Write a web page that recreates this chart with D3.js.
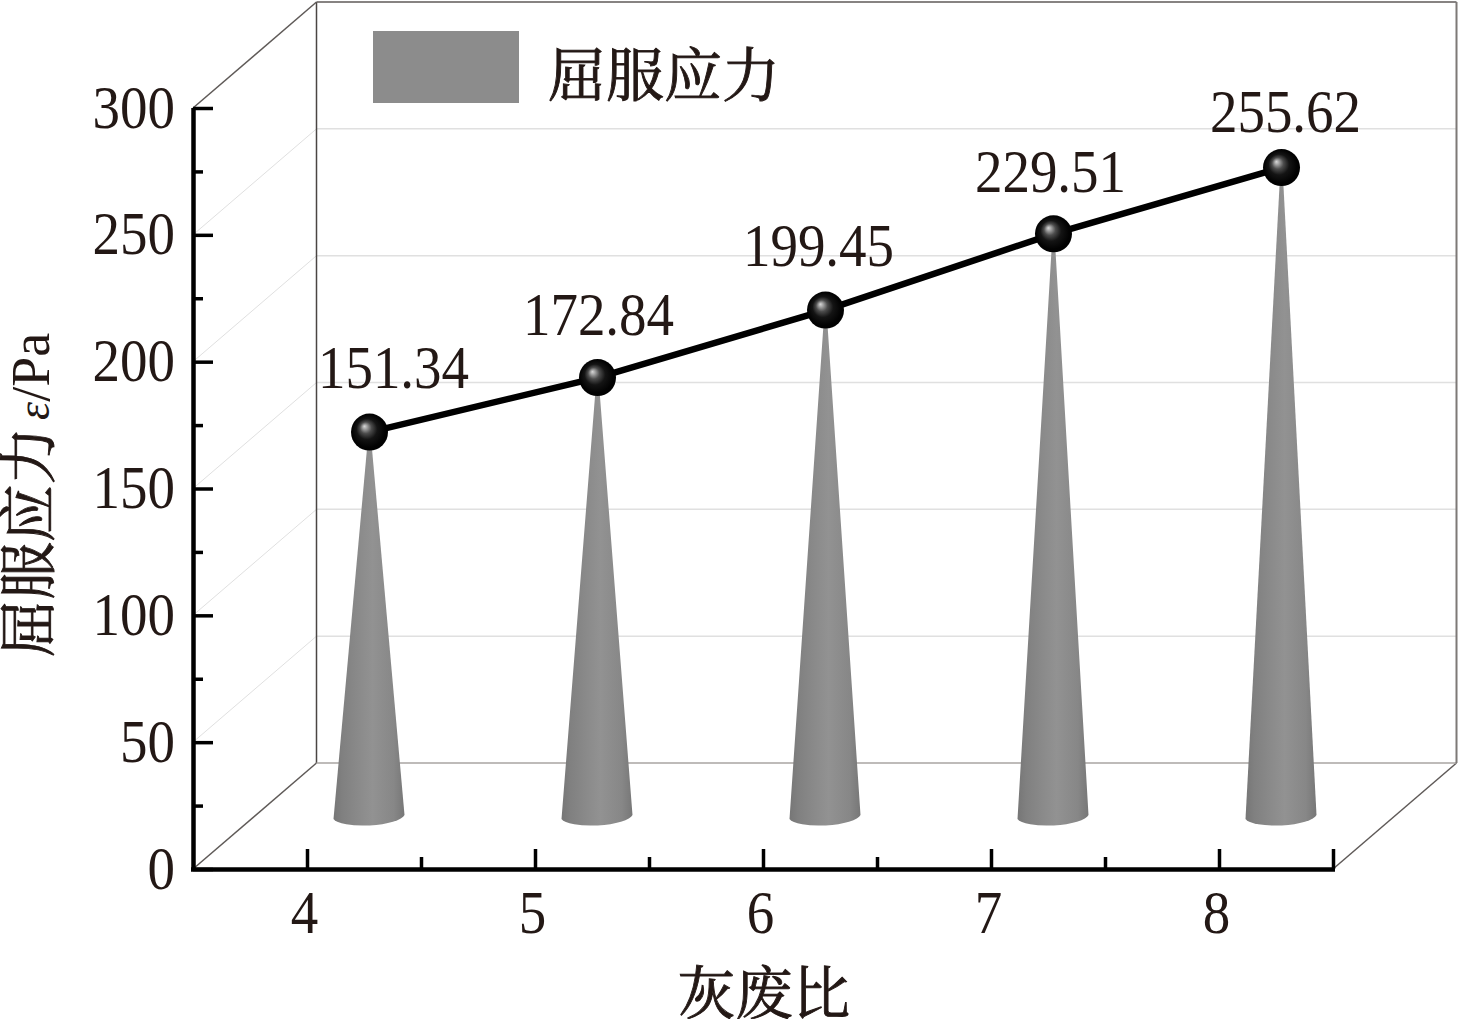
<!DOCTYPE html>
<html><head><meta charset="utf-8">
<style>html,body{margin:0;padding:0;background:#fff}svg{display:block}</style>
<script src="https://cdn.jsdelivr.net/npm/d3@7/dist/d3.min.js"></script>
</head><body><div id="c"></div>
<script>
const categories=[4,5,6,7,8];
const yieldStress=[151.34,172.84,199.45,229.51,255.62];
const valueLabels=["151.34","172.84","199.45","229.51","255.62"];
const yTicks=[0,50,100,150,200,250,300];
const yMinor=[25,75,125,175,225,275];
const xTicks=[4,5,6,7,8,8.5];
const xMinor=[4.5,5.5,6.5,7.5];
const legendName="屈服应力", xTitle="灰废比";

const W=1459,H=1019,ink="#231815";
const serif='"Liberation Serif","Times New Roman",serif';
const cjk='"Noto Serif CJK SC","Noto Sans CJK SC",sans-serif';
const x=d3.scaleLinear().domain([3.5,8.5]).range([193,1333]);
const y=d3.scaleLinear().domain([0,300]).range([869,108]);
const depth={x:123.5,y:-106}, mid={x:62,y:-53};
const labelShift=[[24,-44],[1,-43],[-7,-44],[-3,-42],[4,-36]];

const svg=d3.select("#c").append("svg").attr("width",W).attr("height",H).attr("viewBox",[0,0,W,H]);
const defs=svg.append("defs");
const cg=defs.append("linearGradient").attr("id","cone");
[[0,"#767676"],[.12,"#808080"],[.35,"#8a8a8a"],[.55,"#929292"],[.85,"#878787"],[1,"#777777"]]
 .forEach(d=>cg.append("stop").attr("offset",d[0]).attr("stop-color",d[1]));
const bg=defs.append("radialGradient").attr("id","ball").attr("cx",.5).attr("cy",.5).attr("r",.56).attr("fx",.36).attr("fy",.34);
[[0,"#d8d8d8"],[.1,"#a8a8a8"],[.28,"#4c4c4c"],[.5,"#141414"],[.8,"#020202"],[1,"#000"]]
 .forEach(d=>bg.append("stop").attr("offset",d[0]).attr("stop-color",d[1]));

// back walls and grid
const grid=svg.append("g").attr("fill","none");
yTicks.filter(t=>t>0&&t<300).forEach(t=>{
  grid.append("line").attr("x1",x(3.5)+depth.x).attr("x2",x(8.5)+depth.x).attr("y1",y(t)+depth.y).attr("y2",y(t)+depth.y).attr("stroke","#e0e0e0").attr("stroke-width",1.5);
  grid.append("line").attr("x1",x(3.5)).attr("x2",x(3.5)+depth.x).attr("y1",y(t)).attr("y2",y(t)+depth.y).attr("stroke","#e0e0e0").attr("stroke-width",1);
});
const frame=(x1,y1,x2,y2,c,w)=>grid.append("line").attr("x1",x1).attr("y1",y1).attr("x2",x2).attr("y2",y2).attr("stroke",c).attr("stroke-width",w);
frame(x(3.5)+depth.x,y(300)+depth.y,x(3.5)+depth.x,y(0)+depth.y,"#4a4543",1.5);
frame(x(3.5)+depth.x,y(300)+depth.y,x(8.5)+depth.x,y(300)+depth.y,"#5f5a58",1.5);
frame(x(3.5),y(300),x(3.5)+depth.x,y(300)+depth.y,"#5f5a58",1.5);
frame(x(3.5),y(0),x(3.5)+depth.x,y(0)+depth.y,"#5f5a58",1.5);
frame(x(8.5),y(0),x(8.5)+depth.x,y(0)+depth.y,"#5f5a58",1.5);
frame(x(3.5)+depth.x,y(0)+depth.y,x(8.5)+depth.x,y(0)+depth.y,"#a8a4a2",1.5);
frame(x(8.5)+depth.x,y(0)+depth.y,x(8.5)+depth.x,y(300)+depth.y,"#7d7977",2);

// cones
const baseRx=36, baseRy=10;
svg.append("g").selectAll("path").data(categories).join("path")
  .attr("fill","url(#cone)")
  .attr("d",(c,i)=>{
    const cx=x(c)+mid.x+.5, by=y(0)+mid.y+1, ty=y(yieldStress[i])+mid.y;
    return `M${cx-baseRx},${by+2}L${cx-1},${ty}L${cx+1},${ty}L${cx+baseRx-1},${by-2}A${baseRx},${baseRy} -3 0 1 ${cx-baseRx},${by+2}Z`;
  });

// axes
const txt=(s,fam)=>s.attr("font-family",fam).attr("fill",ink).attr("stroke","none");
const yAxis=svg.append("g").attr("transform",`translate(${x(3.5)},0)`)
  .call(d3.axisRight(y).tickValues(yTicks).tickSize(20).tickFormat(d3.format("d")));
yAxis.select(".domain").attr("stroke","#000").attr("stroke-width",4.5).attr("d",`M0.5,${y(300)}V${y(0)+2}`);
yAxis.selectAll(".tick line").attr("stroke","#000").attr("stroke-width",3.5);
yAxis.selectAll(".tick text").attr("x",-18).attr("dy",0).attr("text-anchor","end")
  .attr("font-size",55).attr("y",0).attr("transform","translate(0,19) scale(1,1.1)");
txt(yAxis.selectAll(".tick text"),serif);
const yMin=svg.append("g").attr("transform",`translate(${x(3.5)},0)`)
  .call(d3.axisRight(y).tickValues(yMinor).tickSize(10).tickFormat(""));
yMin.select(".domain").remove();
yMin.selectAll(".tick line").attr("stroke","#000").attr("stroke-width",3.5);

const xAxis=svg.append("g").attr("transform",`translate(0,${y(0)})`)
  .call(d3.axisTop(x).tickValues(xTicks).tickSize(20).tickFormat(d=>d===8.5?"":d3.format("d")(d)));
xAxis.select(".domain").attr("stroke","#000").attr("stroke-width",4.5).attr("d",`M${x(3.5)-2},0.5H${x(8.5)+2}`);
xAxis.selectAll(".tick line").attr("stroke","#000").attr("stroke-width",3.5);
xAxis.selectAll(".tick text").attr("y",0).attr("dy",0).attr("text-anchor","middle")
  .attr("font-size",55).attr("transform","translate(-3,64) scale(1,1.1)");
txt(xAxis.selectAll(".tick text"),serif);
const xMin=svg.append("g").attr("transform",`translate(0,${y(0)})`)
  .call(d3.axisTop(x).tickValues(xMinor).tickSize(12).tickFormat(""));
xMin.select(".domain").remove();
xMin.selectAll(".tick line").attr("stroke","#000").attr("stroke-width",3.5);

// line and spheres
const px=(d,i)=>x(categories[i])+mid.x+.5, py=d=>y(d)+mid.y;
svg.append("path").datum(yieldStress).attr("fill","none").attr("stroke","#000").attr("stroke-width",6.5)
  .attr("d",d3.line().x(px).y(py));
svg.append("g").selectAll("circle").data(yieldStress).join("circle")
  .attr("cx",px).attr("cy",py).attr("r",18.5).attr("fill","url(#ball)");

// value labels
svg.append("g").selectAll("text").data(yieldStress).join("text")
  .text((d,i)=>valueLabels[i]).attr("text-anchor","middle").attr("font-size",55)
  .attr("font-family",serif).attr("fill",ink)
  .attr("transform",(d,i)=>`translate(${px(d,i)+labelShift[i][0]},${py(d)+labelShift[i][1]}) scale(1,1.1)`);

// legend
svg.append("rect").attr("x",373).attr("y",31).attr("width",146).attr("height",72).attr("fill","#8c8c8c");
const heavy=s=>s.attr("stroke",ink).attr("stroke-width",.9);
svg.append("text").text(legendName).attr("x",548).attr("y",96).attr("font-size",58).attr("font-family",cjk).attr("fill",ink).call(heavy);

// titles
svg.append("text").text(xTitle).attr("x",764).attr("y",1014).attr("text-anchor","middle").attr("font-size",57.5).attr("font-family",cjk).attr("fill",ink).call(heavy);
const yt=svg.append("text").attr("transform","translate(49,657) rotate(-90)").attr("fill",ink).attr("font-size",57.5);
yt.append("tspan").text(legendName).attr("font-family",cjk).call(heavy);
yt.append("tspan").text("ε").attr("font-family",serif).attr("font-style","italic").attr("font-size",46).attr("dx",7);
yt.append("tspan").text("/Pa").attr("font-family",serif).attr("font-size",54);
</script></body></html>
